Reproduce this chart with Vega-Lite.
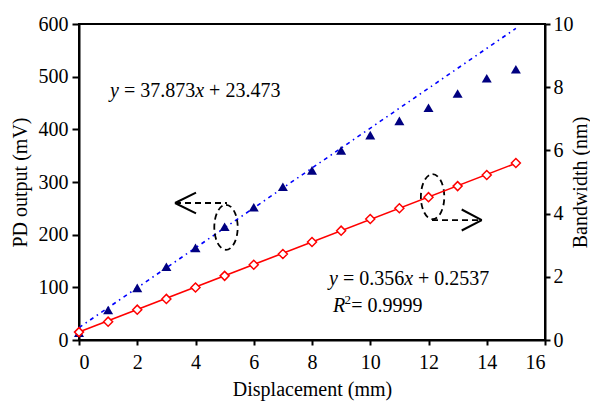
{
  "$schema": "https://vega.github.io/schema/vega-lite/v6.json",
  "width": 466,
  "height": 316,
  "autosize": {"type": "none"},
  "padding": {"left": 79, "top": 24, "right": 45, "bottom": 61},
  "background": "white",
  "config": {
    "view": {"stroke": "black", "strokeWidth": 2},
    "font": "Liberation Serif",
    "axis": {
      "labelFont": "Liberation Serif", "labelFontSize": 20, "labelColor": "black",
      "titleFont": "Liberation Serif", "titleFontSize": 20, "titleFontWeight": "normal", "titleColor": "black",
      "domainColor": "black", "domainWidth": 2, "tickColor": "black", "tickWidth": 2, "grid": false
    }
  },
  "datasets": {
    "pd": [
      {"x": 0, "y": 14}, {"x": 1, "y": 57}, {"x": 2, "y": 99}, {"x": 3, "y": 139},
      {"x": 4, "y": 175}, {"x": 5, "y": 215}, {"x": 6, "y": 252}, {"x": 7, "y": 291},
      {"x": 8, "y": 322}, {"x": 9, "y": 360}, {"x": 10, "y": 389}, {"x": 11, "y": 416},
      {"x": 12, "y": 441}, {"x": 13, "y": 468}, {"x": 14, "y": 497}, {"x": 15, "y": 514}
    ],
    "pdfit": [{"x": 0, "y": 23.473}, {"x": 15, "y": 591.568}],
    "bw": [
      {"x": 0, "b": 0.25}, {"x": 1, "b": 0.58}, {"x": 2, "b": 0.96}, {"x": 3, "b": 1.3},
      {"x": 4, "b": 1.66}, {"x": 5, "b": 2.03}, {"x": 6, "b": 2.38}, {"x": 7, "b": 2.72},
      {"x": 8, "b": 3.1}, {"x": 9, "b": 3.46}, {"x": 10, "b": 3.83}, {"x": 11, "b": 4.17},
      {"x": 12, "b": 4.52}, {"x": 13, "b": 4.87}, {"x": 14, "b": 5.22}, {"x": 15, "b": 5.6}
    ],
    "bwfit": [{"x": 0, "b": 0.2537}, {"x": 15, "b": 5.5937}],
    "dashes": [
      {"x": 3.296, "y": 260.1, "x2": 5.08, "y2": 260.1},
      {"x": 12.12, "y": 227.8, "x2": 13.83, "y2": 227.8}
    ],
    "heads": [
      {"x": 3.296, "y": 260.1, "x2": 4.017, "y2": 279.7},
      {"x": 3.296, "y": 260.1, "x2": 4.017, "y2": 240.6},
      {"x": 13.83, "y": 227.8, "x2": 13.14, "y2": 247.8},
      {"x": 13.83, "y": 227.8, "x2": 13.14, "y2": 207.9}
    ],
    "ellipses": [{"x": 5.047, "y": 214.0}, {"x": 12.14, "y": 272.1}],
    "italic": [
      {"x": 1.064, "y": 461.4, "t": "y"}, {"x": 3.99, "y": 461.4, "t": "x"},
      {"x": 8.584, "y": 104.4, "t": "y"}, {"x": 11.166, "y": 104.4, "t": "x"},
      {"x": 8.721, "y": 53.7, "t": "R"}
    ],
    "regular": [
      {"x": 1.542, "y": 461.4, "t": "= 37.873"}, {"x": 4.467, "y": 461.4, "t": "+ 23.473"},
      {"x": 9.061, "y": 104.4, "t": "= 0.356"}, {"x": 11.641, "y": 104.4, "t": "+ 0.2537"},
      {"x": 9.35, "y": 53.7, "t": "= 0.9999"}
    ],
    "sup": [{"x": 9.12, "y": 68.9, "t": "2"}]
  },
  "layer": [
    {
      "encoding": {
        "x": {"field": "x", "type": "quantitative", "scale": {"domain": [0, 16], "nice": false},
              "axis": {"values": [0, 2, 4, 6, 8, 10, 12, 14, 16], "title": "Displacement (mm)", "tickSize": 5, "labelPadding": 7, "titlePadding": 7}},
        "y": {"field": "y", "type": "quantitative", "scale": {"domain": [0, 600], "nice": false},
              "axis": {"orient": "left", "values": [0, 100, 200, 300, 400, 500, 600], "title": "PD output (mV)", "tickSize": 7, "labelPadding": 4, "titlePadding": 8}}
      },
      "layer": [
        {"data": {"name": "pdfit"}, "mark": {"type": "line", "color": "#0000FF", "strokeWidth": 1.6, "strokeDash": [4, 4, 1.5, 4]}},
        {"data": {"name": "pd"}, "mark": {"type": "point", "shape": "triangle-up", "filled": true, "color": "#000080", "size": 100, "opacity": 1}},
        {"data": {"name": "dashes"}, "mark": {"type": "rule", "color": "black", "strokeWidth": 1.8, "strokeDash": [6, 4]},
         "encoding": {"x2": {"field": "x2"}, "y2": {"field": "y2"}}},
        {"data": {"name": "heads"}, "mark": {"type": "rule", "color": "black", "strokeWidth": 2},
         "encoding": {"x2": {"field": "x2"}, "y2": {"field": "y2"}}},
        {"data": {"name": "ellipses"}, "mark": {"type": "point", "shape": "M0,-1 A0.52,1 0 1,1 0,1 A0.52,1 0 1,1 0,-1 Z", "size": 2025, "filled": false, "stroke": "black", "strokeWidth": 1.8, "strokeDash": [6, 4], "opacity": 1}},
        {"data": {"name": "italic"}, "mark": {"type": "text", "font": "Liberation Serif", "fontSize": 20, "fontStyle": "italic", "align": "left", "baseline": "alphabetic", "color": "black"},
         "encoding": {"text": {"field": "t"}}},
        {"data": {"name": "regular"}, "mark": {"type": "text", "font": "Liberation Serif", "fontSize": 20, "align": "left", "baseline": "alphabetic", "color": "black"},
         "encoding": {"text": {"field": "t"}}},
        {"data": {"name": "sup"}, "mark": {"type": "text", "font": "Liberation Serif", "fontSize": 13, "align": "left", "baseline": "alphabetic", "color": "black"},
         "encoding": {"text": {"field": "t"}}}
      ]
    },
    {
      "encoding": {
        "x": {"field": "x", "type": "quantitative", "scale": {"domain": [0, 16], "nice": false},
              "axis": {"values": [0, 2, 4, 6, 8, 10, 12, 14, 16], "title": "Displacement (mm)", "tickSize": 5, "labelPadding": 7, "titlePadding": 7}},
        "y": {"field": "b", "type": "quantitative", "scale": {"domain": [0, 10], "nice": false},
              "axis": {"orient": "right", "values": [0, 2, 4, 6, 8, 10], "title": "Bandwidth (nm)", "titleAngle": -90, "titleBaseline": "top", "titleAlign": "center", "titleX": 25, "titleY": 158, "tickSize": 5, "labelPadding": 3}}
      },
      "layer": [
        {"data": {"name": "bwfit"}, "mark": {"type": "line", "color": "#FF0000", "strokeWidth": 1.6}},
        {"data": {"name": "bw"}, "mark": {"type": "point", "shape": "diamond", "filled": false, "stroke": "#FF0000", "fill": "white", "fillOpacity": 1, "strokeWidth": 1.5, "size": 81, "opacity": 1}}
      ]
    }
  ],
  "resolve": {"scale": {"y": "independent"}}
}
